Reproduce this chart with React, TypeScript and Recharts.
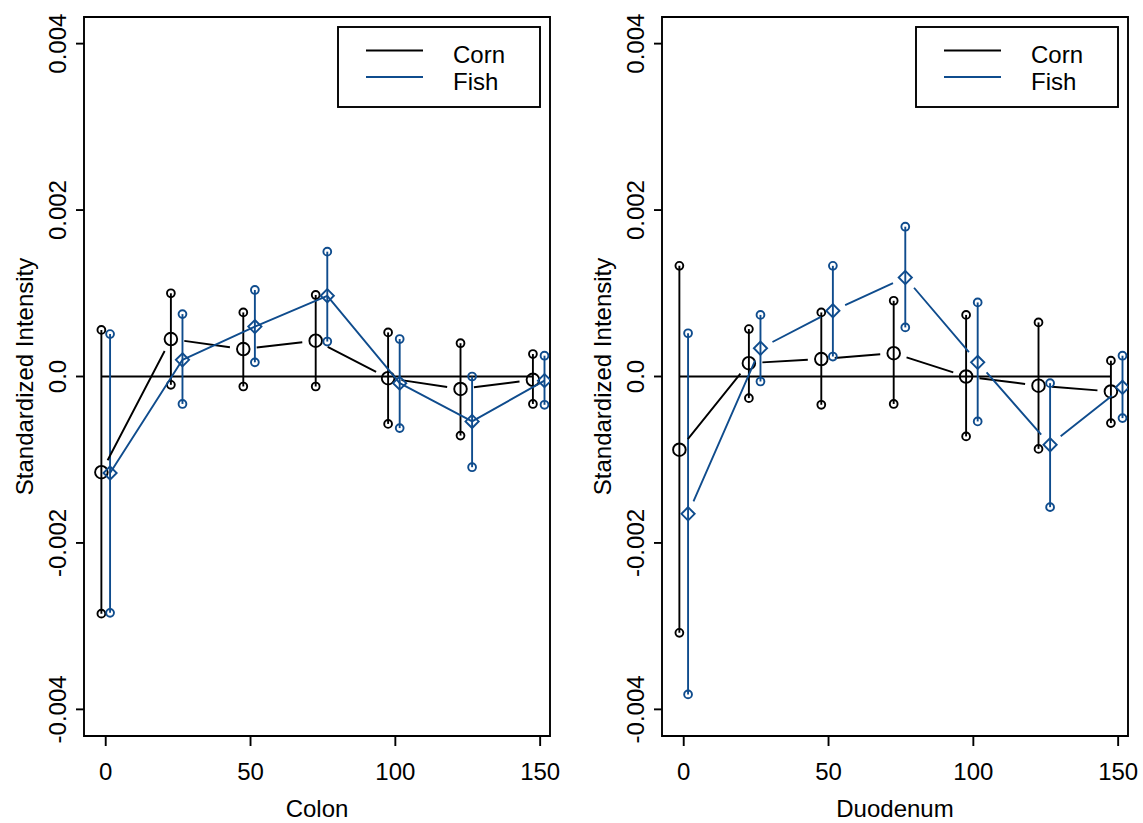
import React from 'react';
import {
  ScatterChart,
  Scatter,
  XAxis,
  YAxis,
  ErrorBar,
  ReferenceLine,
  ReferenceArea,
  Legend,
} from 'recharts';

const FONT = '"Liberation Sans", Arial, Helvetica, sans-serif';
const BLACK = '#000000';
const BLUE = '#0f4c8d';
const LW = 1.9;

// ---- axes ----
const X_DOMAIN = [-7.5, 153.4];
const X_TICKS = [0, 50, 100, 150];
const Y_DOMAIN = [-0.00432, 0.00432];
const Y_TICKS = [-0.004, -0.002, 0, 0.002, 0.004];
const Y_TICK_LABELS = ['-0.004', '-0.002', '0.0', '0.002', '0.004'];

// ---- series ----
const SERIES_NAMES = ['Corn', 'Fish'];
const CORN_X = [-1.5, 22.5, 47.5, 72.5, 97.5, 122.5, 147.5];
const FISH_X = [1.5, 26.5, 51.5, 76.5, 101.5, 126.5, 151.5];

// Colon
const COLON_CORN_MEAN = [-0.00115, 0.00045, 0.00033, 0.00043, -0.00002, -0.00015, -0.00004];
const COLON_CORN_HI = [0.00056, 0.001, 0.00077, 0.00098, 0.00053, 0.0004, 0.00027];
const COLON_CORN_LO = [-0.00285, -0.0001, -0.00012, -0.00012, -0.00057, -0.00071, -0.00033];
const COLON_FISH_MEAN = [-0.00116, 0.0002, 0.0006, 0.00097, -0.00008, -0.00054, -0.00005];
const COLON_FISH_HI = [0.00051, 0.00075, 0.00104, 0.0015, 0.00045, 0.0, 0.00025];
const COLON_FISH_LO = [-0.00284, -0.00033, 0.00017, 0.00042, -0.00062, -0.00109, -0.00034];

// Duodenum
const DUO_CORN_MEAN = [-0.00088, 0.00016, 0.00021, 0.00028, 0.0, -0.00011, -0.00018];
const DUO_CORN_HI = [0.00133, 0.00057, 0.00077, 0.00091, 0.00074, 0.00065, 0.00019];
const DUO_CORN_LO = [-0.00308, -0.00026, -0.00034, -0.00033, -0.00072, -0.00087, -0.00056];
const DUO_FISH_MEAN = [-0.00165, 0.00034, 0.00079, 0.00119, 0.00017, -0.00082, -0.00013];
const DUO_FISH_HI = [0.00052, 0.00074, 0.00133, 0.0018, 0.00089, -0.00008, 0.00025];
const DUO_FISH_LO = [-0.00382, -0.00006, 0.00024, 0.00059, -0.00054, -0.00157, -0.0005];

type Pt = { x: number; y: number; err?: number[] };

function meanData(xs: number[], mean: number[], lo: number[], hi: number[]): Pt[] {
  return xs.map((x, i) => ({ x, y: mean[i], err: [mean[i] - lo[i], hi[i] - mean[i]] }));
}
function capData(xs: number[], vals: number[]): Pt[] {
  return xs.map((x, i) => ({ x, y: vals[i] }));
}

function gappedPath(points: { x: number; y: number }[], gap: number): string {
  let d = '';
  for (let i = 0; i < points.length - 1; i++) {
    const a = points[i];
    const b = points[i + 1];
    if (a == null || b == null || a.x == null || b.x == null) continue;
    const dx = b.x - a.x;
    const dy = b.y - a.y;
    const len = Math.hypot(dx, dy);
    if (len <= 2 * gap) continue;
    const ux = dx / len;
    const uy = dy / len;
    d += `M${a.x + ux * gap},${a.y + uy * gap}L${b.x - ux * gap},${b.y - uy * gap}`;
  }
  return d;
}

const circleShape = (r: number, color: string) => (p: any) => (
  <circle cx={p.cx} cy={p.cy} r={r} fill="none" stroke={color} strokeWidth={LW} />
);
const diamondShape = (s: number, color: string) => (p: any) => (
  <path
    d={`M${p.cx},${p.cy - s}L${p.cx + s},${p.cy}L${p.cx},${p.cy + s}L${p.cx - s},${p.cy}Z`}
    fill="none"
    stroke={color}
    strokeWidth={LW}
  />
);

const XTick = (props: any) => {
  const { x, y, payload } = props;
  return (
    <text x={x} y={y} dy="0.71em" textAnchor="middle" fontFamily={FONT} fontSize={24} fill={BLACK}>
      {String(payload.value)}
    </text>
  );
};

const YTick = (props: any) => {
  const { x, y, payload } = props;
  const idx = Y_TICKS.findIndex((t) => Math.abs(t - payload.value) < 1e-9);
  const label = idx >= 0 ? Y_TICK_LABELS[idx] : String(payload.value);
  return (
    <text
      x={x}
      y={y}
      transform={`rotate(-90 ${x} ${y})`}
      textAnchor="middle"
      fontFamily={FONT}
      fontSize={24}
      fill={BLACK}
    >
      {label}
    </text>
  );
};

const LegendBox = () => (
  <svg width={205} height={83} style={{ display: 'block' }}>
    <rect x={1} y={1} width={202} height={80} fill="#ffffff" stroke={BLACK} strokeWidth={LW} />
    <line x1={29} x2={86} y1={24.5} y2={24.5} stroke={BLACK} strokeWidth={LW} />
    <line x1={29} x2={86} y1={51} y2={51} stroke={BLUE} strokeWidth={LW} />
    <text x={116} y={37} fontFamily={FONT} fontSize={24} fill={BLACK}>
      {SERIES_NAMES[0]}
    </text>
    <text x={116} y={63.5} fontFamily={FONT} fontSize={24} fill={BLACK}>
      {SERIES_NAMES[1]}
    </text>
  </svg>
);

type PanelProps = {
  left: number;
  width: number;
  yAxisWidth: number;
  rightMargin: number;
  xLabel: string;
  cornMean: number[];
  cornLo: number[];
  cornHi: number[];
  fishMean: number[];
  fishLo: number[];
  fishHi: number[];
  fishGap: number;
  legendLeft: number;
};

function Panel(p: PanelProps) {
  const H = 823;
  const plotLeft = p.yAxisWidth;
  const plotRight = p.width - p.rightMargin;
  const plotCx = (plotLeft + plotRight) / 2;
  const plotCy = (17 + 736) / 2;
  const yLabelX = plotLeft - 51;
  const corn = meanData(CORN_X, p.cornMean, p.cornLo, p.cornHi);
  const fish = meanData(FISH_X, p.fishMean, p.fishLo, p.fishHi);
  const CORN_GAP = 13.5;

  return (
    <div style={{ position: 'absolute', left: p.left, top: 0, width: p.width, height: H }}>
      <ScatterChart width={p.width} height={H} margin={{ top: 17, right: p.rightMargin, left: 0, bottom: 0 }}>
        <XAxis
          type="number"
          dataKey="x"
          domain={X_DOMAIN}
          ticks={X_TICKS}
          interval={0}
          allowDataOverflow
          height={87}
          axisLine={false}
          tickLine={{ stroke: BLACK, strokeWidth: LW }}
          tickSize={10}
          tickMargin={17}
          tick={XTick}
          label={{
            content: () => (
              <text x={plotCx} y={817} textAnchor="middle" fontFamily={FONT} fontSize={24} fill={BLACK}>
                {p.xLabel}
              </text>
            ),
          }}
        />
        <YAxis
          type="number"
          dataKey="y"
          domain={Y_DOMAIN}
          ticks={Y_TICKS}
          interval={0}
          allowDataOverflow
          width={p.yAxisWidth}
          axisLine={false}
          tickLine={{ stroke: BLACK, strokeWidth: LW }}
          tickSize={8}
          tickMargin={10}
          tick={YTick}
          label={{
            content: () => (
              <text
                x={yLabelX}
                y={plotCy}
                transform={`rotate(-90 ${yLabelX} ${plotCy})`}
                textAnchor="middle"
                fontFamily={FONT}
                fontSize={24}
                fill={BLACK}
              >
                Standardized Intensity
              </text>
            ),
          }}
        />
        <ReferenceArea
          x1={X_DOMAIN[0]}
          x2={X_DOMAIN[1]}
          y1={Y_DOMAIN[0]}
          y2={Y_DOMAIN[1]}
          fill="none"
          fillOpacity={0}
          stroke={BLACK}
          strokeWidth={LW}
          ifOverflow="visible"
        />
        <ReferenceLine
          segment={[
            { x: CORN_X[0], y: 0 },
            { x: CORN_X[CORN_X.length - 1], y: 0 },
          ]}
          stroke={BLACK}
          strokeWidth={LW}
        />

        {/* Corn */}
        <Scatter
          data={corn}
          isAnimationActive={false}
          legendType="none"
          shape={circleShape(6.3, BLACK)}
          line={(lp: any) => (
            <path d={gappedPath(lp.points || [], CORN_GAP)} fill="none" stroke={BLACK} strokeWidth={LW} />
          )}
        >
          <ErrorBar dataKey="err" direction="y" width={0} stroke={BLACK} strokeWidth={LW} isAnimationActive={false} />
        </Scatter>
        <Scatter data={capData(CORN_X, p.cornHi)} isAnimationActive={false} legendType="none" shape={circleShape(3.9, BLACK)} />
        <Scatter data={capData(CORN_X, p.cornLo)} isAnimationActive={false} legendType="none" shape={circleShape(3.9, BLACK)} />

        {/* Fish */}
        <Scatter
          data={fish}
          isAnimationActive={false}
          legendType="none"
          shape={diamondShape(6.6, BLUE)}
          line={(lp: any) => (
            <path d={gappedPath(lp.points || [], p.fishGap)} fill="none" stroke={BLUE} strokeWidth={LW} />
          )}
        >
          <ErrorBar dataKey="err" direction="y" width={0} stroke={BLUE} strokeWidth={LW} isAnimationActive={false} />
        </Scatter>
        <Scatter data={capData(FISH_X, p.fishHi)} isAnimationActive={false} legendType="none" shape={circleShape(3.9, BLUE)} />
        <Scatter data={capData(FISH_X, p.fishLo)} isAnimationActive={false} legendType="none" shape={circleShape(3.9, BLUE)} />

        <Legend
          layout="vertical"
          align="center"
          verticalAlign="middle"
          content={LegendBox}
          wrapperStyle={{ left: p.legendLeft, top: 26, width: 205, height: 83, margin: 0, padding: 0 }}
        />
      </ScatterChart>
    </div>
  );
}

export default function App() {
  return (
    <div style={{ position: 'absolute', left: 0, top: 0, width: 1143, height: 823, background: '#ffffff' }}>
      <Panel
        left={0}
        width={576}
        yAxisWidth={84}
        rightMargin={26}
        xLabel="Colon"
        cornMean={COLON_CORN_MEAN}
        cornLo={COLON_CORN_LO}
        cornHi={COLON_CORN_HI}
        fishMean={COLON_FISH_MEAN}
        fishLo={COLON_FISH_LO}
        fishHi={COLON_FISH_HI}
        fishGap={0}
        legendLeft={337}
      />
      <Panel
        left={576}
        width={567}
        yAxisWidth={86}
        rightMargin={15}
        xLabel="Duodenum"
        cornMean={DUO_CORN_MEAN}
        cornLo={DUO_CORN_LO}
        cornHi={DUO_CORN_HI}
        fishMean={DUO_FISH_MEAN}
        fishLo={DUO_FISH_LO}
        fishHi={DUO_FISH_HI}
        fishGap={13.5}
        legendLeft={339}
      />
    </div>
  );
}
